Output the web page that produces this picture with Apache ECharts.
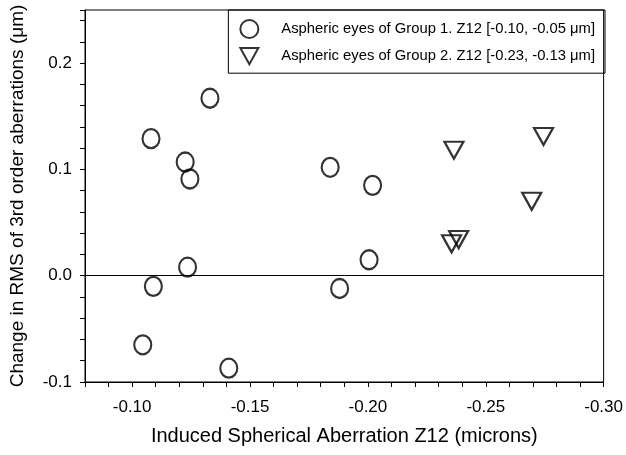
<!DOCTYPE html>
<html>
<head>
<meta charset="utf-8">
<script src="https://cdn.jsdelivr.net/npm/echarts@6/dist/echarts.min.js"></script>
<style>
  html, body { margin: 0; padding: 0; background: #fff; }
  #chart { width: 626px; height: 455px; }
</style>
</head>
<body>
<div id="chart"></div>
<script>
// group 1: circles, [induced Z12, change in RMS 3rd order]
const group1_x = [-0.108, -0.133, -0.1225, -0.1245, -0.1235, -0.109, -0.1045, -0.141, -0.184, -0.202, -0.2005, -0.188];
const group1_y = [0.129, 0.167, 0.107, 0.091, 0.008, -0.010, -0.065, -0.087, 0.102, 0.085, 0.015, -0.012];
// group 2: inverted triangles
const group2_x = [-0.2365, -0.2745, -0.2695, -0.2355, -0.2385];
const group2_y = [0.118, 0.131, 0.070, 0.030, 0.034];

const name1 = 'Aspheric eyes of Group 1. Z12 [-0.10, -0.05 \u03bcm]';
const name2 = 'Aspheric eyes of Group 2. Z12 [-0.23, -0.13 \u03bcm]';

const pairs = (xs, ys) => xs.map((x, i) => [x, ys[i]]);
const onStep = (v, step) => Math.abs(v / step - Math.round(v / step)) < 1e-6;
const font = 'Liberation Sans, Arial, sans-serif';
const tri = 'path://M0,0 L20,0 L10,18 Z';

const option = {
    backgroundColor: '#fff',
    animation: false,
    textStyle: { fontFamily: font, color: '#000' },
    grid: {
        left: 85, right: 21, top: 10, bottom: 73,
        show: true, borderColor: '#000', borderWidth: 1,
    },
    legend: {
        orient: 'vertical',
        right: 21, top: 10,
        borderColor: '#000', borderWidth: 1,
        padding: [9, 10, 8, 11],
        itemWidth: 18, itemHeight: 18, itemGap: 8,
        textStyle: { fontSize: 14.8, color: '#000', fontFamily: font, padding: [0, 0, 0, 18] },
        data: [name1, name2],
    },
    xAxis: {
        type: 'value',
        inverse: true,
        min: -0.30, max: -0.08, interval: 0.01,
        name: 'Induced Spherical Aberration Z12 (microns)',
        nameLocation: 'middle', nameGap: 44,
        nameTextStyle: { fontSize: 20, color: '#000', fontFamily: font },
        axisLine: { onZero: false, lineStyle: { color: '#000' } },
        axisTick: { inside: false, length: 5, lineStyle: { color: '#000' } },
        axisLabel: {
            fontSize: 17, color: '#000', margin: 17,
            formatter: v => onStep(v, 0.05) ? v.toFixed(2) : '',
        },
        splitLine: { show: false },
    },
    yAxis: {
        type: 'value',
        min: -0.1, max: 0.25, interval: 0.02,
        name: 'Change in RMS of 3rd order aberrations (\u03bcm)',
        nameLocation: 'middle', nameGap: 58,
        nameTextStyle: { fontSize: 19, color: '#000', fontFamily: font },
        axisLine: { lineStyle: { color: '#000' } },
        axisTick: { length: 5, lineStyle: { color: '#000' } },
        axisLabel: {
            fontSize: 17, color: '#000', margin: 13,
            formatter: v => onStep(v, 0.1) && v < 0.245 ? v.toFixed(1) : '',
        },
        splitLine: { show: false },
    },
    series: [
        {
            name: name1,
            type: 'scatter',
            data: pairs(group1_x, group1_y),
            symbol: 'circle',
            symbolSize: [17, 19],
            itemStyle: { color: 'rgba(255,255,255,0)', borderColor: '#000', borderWidth: 2.2 },
            markLine: {
                silent: true, symbol: 'none', label: { show: false },
                lineStyle: { color: '#000', width: 1, type: 'solid' },
                data: [{ yAxis: 0 }],
            },
        },
        {
            name: name2,
            type: 'scatter',
            data: pairs(group2_x, group2_y),
            symbol: tri,
            symbolSize: [19, 17],
            itemStyle: { color: 'rgba(255,255,255,0)', borderColor: '#000', borderWidth: 2.2 },
        },
    ],
};

const chart = echarts.init(document.getElementById('chart'));
chart.setOption(option);
</script>
</body>
</html>
